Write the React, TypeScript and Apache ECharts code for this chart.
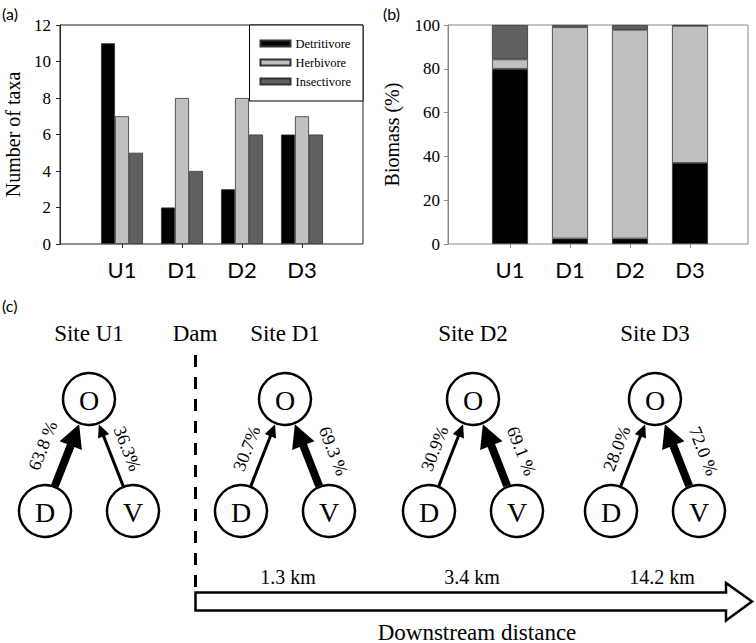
import React, { useEffect, useRef } from 'react';
import * as echarts from 'echarts';

// ---------- data ----------
const sites = ['U1', 'D1', 'D2', 'D3'];
const guildNames = ['Detritivore', 'Herbivore', 'Insectivore'];
const taxaDetritivore = [11, 2, 3, 6];
const taxaHerbivore = [7, 8, 8, 7];
const taxaInsectivore = [5, 4, 6, 6];
const biomassDetritivore = [80, 2.5, 2.5, 37];
const biomassHerbivore = [4.3, 96.5, 95.3, 62.6];
const biomassInsectivore = [15.7, 1.0, 2.2, 0.4];
const siteTitles = ['Site U1', 'Site D1', 'Site D2', 'Site D3'];
const detritalShare = [63.8, 30.7, 30.9, 28.0]; // D -> O
const vegetalShare = [36.3, 69.3, 69.1, 72.0]; // V -> O
const distanceKm = [1.3, 3.4, 14.2]; // D1, D2, D3 from dam

// ---------- styles / layout ----------
const SERIF = '"Liberation Serif", "Times New Roman", serif';
const SANS = 'Lato, "Open Sans", sans-serif';
const COLORS = ['#000000', '#c0c0c0', '#606060'];
const diagramX = [89, 285, 473, 655];
const distanceX = [288, 472, 662];
const O_Y = 399;
const LOW_Y = 511;
const SPREAD = 44;
const R = 26;

function arrowPoints(bx: number, by: number, tx: number, ty: number, w: number, hw: number, hl: number) {
  const dx = tx - bx, dy = ty - by;
  const L = Math.hypot(dx, dy);
  const ux = dx / L, uy = dy / L;
  const nx = -uy, ny = ux;
  const hx = tx - ux * hl, hy = ty - uy * hl;
  return [
    [bx + nx * w / 2, by + ny * w / 2],
    [hx + nx * w / 2, hy + ny * w / 2],
    [hx + nx * hw / 2, hy + ny * hw / 2],
    [tx, ty],
    [hx - nx * hw / 2, hy - ny * hw / 2],
    [hx - nx * w / 2, hy - ny * w / 2],
    [bx - nx * w / 2, by - ny * w / 2],
  ];
}

function pctText(v: number) {
  return v > 50 ? v.toFixed(1) + ' %' : v.toFixed(1) + '%';
}

function buildDiagram(i: number): any[] {
  const ox = diagramX[i];
  const els: any[] = [];
  els.push({
    type: 'text', x: ox, y: 333,
    style: { text: siteTitles[i], font: `23px ${SERIF}`, fill: '#000', align: 'center', verticalAlign: 'middle' },
  });
  const nodes = [
    { x: ox, y: O_Y, t: 'O' },
    { x: ox - SPREAD, y: LOW_Y, t: 'D' },
    { x: ox + SPREAD, y: LOW_Y, t: 'V' },
  ];
  const shares = [detritalShare[i], vegetalShare[i]];
  [nodes[1], nodes[2]].forEach((src, k) => {
    const dx = ox - src.x, dy = O_Y - src.y;
    const L = Math.hypot(dx, dy);
    const ux = dx / L, uy = dy / L;
    const bx = src.x + ux * (R + 1), by = src.y + uy * (R + 1);
    const tx = ox - ux * (R + 1), ty = O_Y - uy * (R + 1);
    const thick = shares[k] > 50;
    const pts = thick ? arrowPoints(bx, by, tx, ty, 8, 24, 23) : arrowPoints(bx, by, tx, ty, 3, 12, 13);
    els.push({ type: 'polygon', shape: { points: pts }, style: { fill: '#000' }, z: 5 });
    const mx = (bx + tx) / 2, my = (by + ty) / 2;
    const d = thick ? 26 : 17.5;
    let lx: number, ly: number, rot: number;
    if (k === 0) {
      lx = mx + uy * d; ly = my - ux * d;
      rot = Math.atan2(-uy, ux);
    } else {
      lx = mx - uy * d + ux * (thick ? -6 : 0);
      ly = my + ux * d + uy * (thick ? -6 : 0);
      rot = Math.atan2(uy, -ux);
    }
    els.push({
      type: 'text', x: lx, y: ly, rotation: rot, z: 6,
      style: { text: pctText(shares[k]), font: `18px ${SERIF}`, fill: '#000', align: 'center', verticalAlign: 'middle' },
    });
  });
  nodes.forEach((n) => {
    els.push({ type: 'circle', shape: { cx: n.x, cy: n.y, r: R }, style: { fill: '#fff', stroke: '#000', lineWidth: 2.5 }, z: 4 });
    els.push({
      type: 'text', x: n.x, y: n.y + 1, z: 6,
      style: { text: n.t, font: `28px ${SERIF}`, fill: '#000', align: 'center', verticalAlign: 'middle' },
    });
  });
  return els;
}

function buildGraphics(): any[] {
  const els: any[] = [];
  const panelLabel = (t: string, x: number, y: number) => ({
    type: 'text', x, y, style: { text: t, font: `16px ${SANS}`, fill: '#000', align: 'left', verticalAlign: 'middle' },
  });
  els.push(panelLabel('(a)', 2, 13));
  els.push(panelLabel('(b)', 383, 13));
  els.push(panelLabel('(c)', 2, 305));
  for (let i = 0; i < siteTitles.length; i++) els.push(...buildDiagram(i));
  els.push({
    type: 'text', x: 195, y: 333,
    style: { text: 'Dam', font: `23px ${SERIF}`, fill: '#000', align: 'center', verticalAlign: 'middle' },
  });
  els.push({
    type: 'line', shape: { x1: 195.5, y1: 355, x2: 195.5, y2: 592 },
    style: { stroke: '#000', lineWidth: 3, lineDash: [12, 10] },
  });
  els.push({
    type: 'polygon',
    shape: { points: [[195.5, 592.5], [726, 592.5], [726, 583], [752, 601.5], [726, 620.5], [726, 610.5], [195.5, 610.5]] },
    style: { fill: '#fff', stroke: '#000', lineWidth: 2.5 },
  });
  distanceKm.forEach((km, j) => {
    els.push({
      type: 'text', x: distanceX[j], y: 577,
      style: { text: `${km} km`, font: `20px ${SERIF}`, fill: '#000', align: 'center', verticalAlign: 'middle' },
    });
  });
  els.push({
    type: 'text', x: 477, y: 632,
    style: { text: 'Downstream distance', font: `23px ${SERIF}`, fill: '#000', align: 'center', verticalAlign: 'middle' },
  });
  return els;
}

function buildOption(): any {
  const catAxis = (gridIndex: number, tickColor: string) => ({
    gridIndex, type: 'category', data: sites,
    axisLine: { show: false },
    axisTick: { show: true, alignWithLabel: true, length: 4, lineStyle: { color: tickColor } },
    axisLabel: { fontFamily: SANS, fontSize: 22, color: '#000', margin: 14 },
  });
  const hiddenX = (gridIndex: number) => ({ gridIndex, type: 'value', show: false, min: 0, max: 1, splitLine: { show: false } });
  const hiddenY = (gridIndex: number, max: number) => ({ gridIndex, type: 'value', show: false, min: 0, max, splitLine: { show: false } });
  const barStyle = (c: string) => ({ color: c, borderColor: '#333', borderWidth: 0.8 });
  const taxa = [taxaDetritivore, taxaHerbivore, taxaInsectivore];
  const bio = [biomassDetritivore, biomassHerbivore, biomassInsectivore];
  return {
    animation: false,
    backgroundColor: '#fff',
    grid: [
      { left: 60, top: 25, width: 303, height: 219, show: true, borderColor: '#222', borderWidth: 1, backgroundColor: 'transparent' },
      { left: 92, top: 25, width: 240, height: 219 },
      { left: 448, top: 25, width: 300, height: 219, show: true, borderColor: '#888', borderWidth: 1, backgroundColor: 'transparent' },
      { left: 480, top: 25, width: 240, height: 219 },
    ],
    xAxis: [hiddenX(0), catAxis(1, '#222'), hiddenX(2), catAxis(3, '#888')],
    yAxis: [
      {
        gridIndex: 0, type: 'value', min: 0, max: 12, interval: 2,
        axisLine: { show: true, lineStyle: { color: '#222' } },
        axisTick: { show: true, length: 4, lineStyle: { color: '#222' } },
        axisLabel: { fontFamily: SERIF, fontSize: 17, color: '#000', margin: 9 },
        splitLine: { show: false },
        name: 'Number of taxa', nameLocation: 'middle', nameGap: 37,
        nameTextStyle: { fontFamily: SERIF, fontSize: 20, color: '#000' },
      },
      hiddenY(1, 12),
      {
        gridIndex: 2, type: 'value', min: 0, max: 100, interval: 20,
        axisLine: { show: true, lineStyle: { color: '#888' } },
        axisTick: { show: true, length: 4, lineStyle: { color: '#888' } },
        axisLabel: { fontFamily: SERIF, fontSize: 17, color: '#000', margin: 8 },
        splitLine: { show: false },
        name: 'Biomass (%)', nameLocation: 'middle', nameGap: 46,
        nameTextStyle: { fontFamily: SERIF, fontSize: 20, color: '#000' },
      },
      hiddenY(3, 100),
    ],
    legend: {
      data: guildNames, orient: 'vertical', left: 249.5, top: 25,
      itemWidth: 30, itemHeight: 6, itemGap: 6, icon: 'rect',
      padding: [12, 12, 13, 10], borderColor: '#000', borderWidth: 1, backgroundColor: '#fff',
      textStyle: { fontFamily: SERIF, fontSize: 12.5, color: '#000' },
      selectedMode: false, z: 10,
    },
    series: [
      ...guildNames.map((n, k) => ({
        name: n, type: 'bar', xAxisIndex: 1, yAxisIndex: 1, data: taxa[k],
        barWidth: 14, barGap: '0%', itemStyle: barStyle(COLORS[k]),
      })),
      ...guildNames.map((n, k) => ({
        name: n, type: 'bar', xAxisIndex: 3, yAxisIndex: 3, data: bio[k], stack: 'biomass',
        barWidth: 36, itemStyle: barStyle(COLORS[k]),
      })),
    ],
    graphic: { elements: buildGraphics() },
  };
}

export default function App() {
  const ref = useRef<HTMLDivElement>(null);
  useEffect(() => {
    if (!ref.current) return;
    const chart = echarts.init(ref.current, null, { renderer: 'svg' });
    chart.setOption(buildOption());
    return () => chart.dispose();
  }, []);
  return (
    <div
      ref={ref}
      style={{ position: 'absolute', left: 0, top: 0, width: 756, height: 643, background: '#fff' }}
    />
  );
}
